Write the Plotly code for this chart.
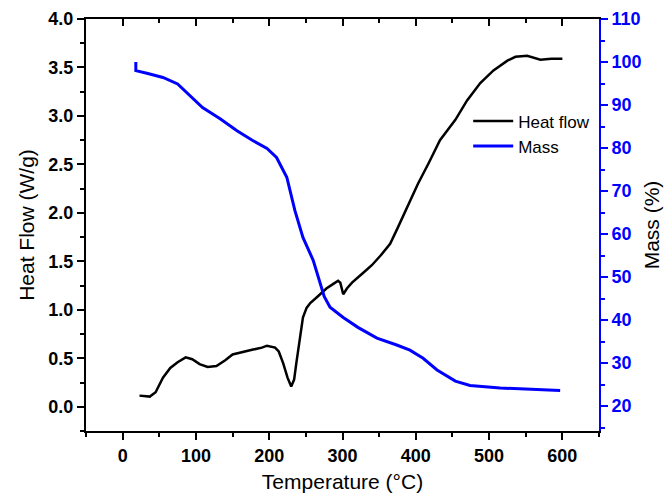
import plotly.graph_objects as go

# Heat flow (W/g) vs temperature (°C)
hf_temp = [23, 37, 45, 55, 65, 75, 86, 95, 105, 116, 128, 140, 150, 165, 178, 190, 197, 208, 213,
           219, 225, 230, 234, 237, 242, 246, 251, 256, 265, 278, 288, 294, 297, 301, 306, 313, 328,
           340, 352, 365, 375, 388, 403, 418, 433, 454, 470, 488, 506, 525, 536, 552, 570, 585, 600]
hf_val = [0.115, 0.105, 0.15, 0.30, 0.40, 0.46, 0.51, 0.49, 0.44, 0.41, 0.42, 0.48, 0.54, 0.57, 0.59,
          0.61, 0.63, 0.61, 0.57, 0.45, 0.30, 0.21, 0.28, 0.45, 0.74, 0.92, 1.02, 1.07, 1.13, 1.22, 1.27,
          1.30, 1.28, 1.16, 1.22, 1.28, 1.38, 1.46, 1.56, 1.68, 1.84, 2.05, 2.30, 2.52, 2.75, 2.96, 3.16,
          3.34, 3.47, 3.57, 3.61, 3.62, 3.58, 3.59, 3.59]

# Mass (%) vs temperature (°C)
m_temp = [18, 18, 33, 55, 75, 92, 109, 133, 156, 178, 197, 210, 224, 235, 246, 260, 270, 275, 283,
          301, 321, 347, 374, 392, 410, 429, 454, 474, 515, 556, 597]
m_val = [100.0, 98.0, 97.4, 96.4, 94.9, 92.2, 89.4, 86.8, 84.0, 81.7, 79.9, 77.8, 73.2, 65.5, 59.2,
         53.9, 48.5, 45.5, 43.0, 40.6, 38.3, 35.8, 34.2, 33.0, 31.1, 28.4, 25.8, 24.8, 24.2, 23.9, 23.6]

x_range = [-50, 650]
hf_range = [-0.25, 4.0]
mass_range = [14.2, 110]

FONT = "Arial, Liberation Sans, sans-serif"
BLUE = "#0000ff"
TICKSIZE = 18
TITLESIZE = 21

fig = go.Figure()
fig.add_trace(go.Scatter(x=hf_temp, y=hf_val, mode="lines", name="Heat flow",
                         line=dict(color="black", width=2.5)))
fig.add_trace(go.Scatter(x=m_temp, y=m_val, mode="lines", name="Mass", yaxis="y2",
                         line=dict(color=BLUE, width=3)))
# empty helper trace so the top mirror axis exists
fig.add_trace(go.Scatter(x=[], y=[], xaxis="x2", showlegend=False, hoverinfo="skip"))

fig.update_layout(
    width=667, height=496,
    margin=dict(l=86, r=68, t=19, b=65),
    paper_bgcolor="white", plot_bgcolor="white",
    font=dict(family=FONT, color="black"),
    xaxis=dict(range=x_range, showgrid=False, zeroline=False, showline=True, linecolor="black",
               linewidth=2, ticks="outside", ticklen=7, tickwidth=1.5, tickcolor="black",
               tick0=0, dtick=100, tickprefix="<b>", ticksuffix="</b>",
               tickfont=dict(size=TICKSIZE, family=FONT), automargin=False,
               minor=dict(ticks="outside", ticklen=4, tickwidth=1.5, tickcolor="black", dtick=50, tick0=0),
               title=dict(text="Temperature (°C)", font=dict(size=TITLESIZE, family=FONT), standoff=10)),
    xaxis2=dict(range=x_range, overlaying="x", side="top", anchor="y", showgrid=False, zeroline=False,
                showline=True, linecolor="black", linewidth=2, ticks="inside", ticklen=7,
                tickwidth=1.5, tickcolor="black", tick0=0, dtick=100, showticklabels=False,
                automargin=False,
                minor=dict(ticks="inside", ticklen=4, tickwidth=1.5, tickcolor="black", dtick=50, tick0=0)),
    yaxis=dict(range=hf_range, showgrid=False, zeroline=False, showline=True, linecolor="black",
               linewidth=2, ticks="outside", ticklen=7, tickwidth=1.5, tickcolor="black",
               tick0=0, dtick=0.5, tickformat=".1f", tickprefix="<b>", ticksuffix="</b>",
               tickfont=dict(size=TICKSIZE, family=FONT), automargin=False,
               minor=dict(ticks="outside", ticklen=4, tickwidth=1.5, tickcolor="black", dtick=0.25, tick0=0),
               title=dict(text="Heat Flow (W/g)", font=dict(size=TITLESIZE, family=FONT), standoff=8)),
    yaxis2=dict(range=mass_range, overlaying="y", side="right", anchor="x", showgrid=False,
                zeroline=False, showline=True, linecolor=BLUE, linewidth=2, ticks="outside",
                ticklen=7, tickwidth=1.5, tickcolor=BLUE, tick0=0, dtick=10,
                tickprefix="<b>", ticksuffix="</b>",
                tickfont=dict(size=TICKSIZE, family=FONT, color=BLUE), automargin=False,
                minor=dict(ticks="outside", ticklen=4, tickwidth=1.5, tickcolor=BLUE, dtick=5, tick0=0),
                title=dict(text="Mass (%)", font=dict(size=TITLESIZE, family=FONT, color="black"), standoff=4)),
    legend=dict(x=0.745, y=0.795, xanchor="left", yanchor="top", bgcolor="rgba(0,0,0,0)",
                font=dict(size=17, family=FONT), itemwidth=40, tracegroupgap=0),
    showlegend=True,
)

fig.write_html("out.html", config={"displayModeBar": False},
               post_script="document.body.style.margin='0';document.body.style.padding='0';")
